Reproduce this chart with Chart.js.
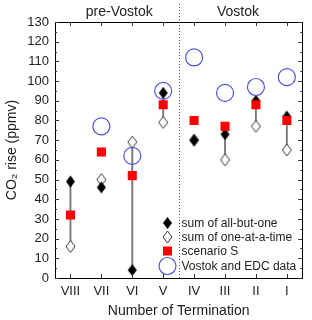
<!DOCTYPE html>
<html>
<head>
<meta charset="utf-8">
<script src="https://cdn.jsdelivr.net/npm/chart.js@4/dist/chart.umd.min.js"></script>
<style>
  html, body { margin: 0; padding: 0; background: #fff; }
  #wrap { width: 312px; height: 320px; }
</style>
</head>
<body>
<div id="wrap"><canvas id="co2Chart" width="312" height="320"></canvas></div>
<script>
const terminations = ["VIII", "VII", "VI", "V", "IV", "III", "II", "I"];
const allButOne = [49, 46, 4, 94, 70, 73, 90, 82];
const oneAtATime = [16, 50, 69, 79, 70, 60, 77, 65];
const scenarioS = [32, 64, 52, 88, 80, 77, 88, 80];
const vostokEDC = [null, 77, 62, 95, 112, 94, 97, 102];
const yTicks = [0, 10, 20, 30, 40, 50, 60, 70, 80, 90, 100, 110, 120, 130];
const groupLabels = ["pre-Vostok", "Vostok"];

const FONT = "'Liberation Sans', Arial, sans-serif";

function diamond(fill, stroke) {
  const c = document.createElement("canvas");
  c.width = 11;
  c.height = 14;
  const g = c.getContext("2d");
  g.beginPath();
  g.moveTo(5.5, 1);
  g.lineTo(10, 7);
  g.lineTo(5.5, 13);
  g.lineTo(1, 7);
  g.closePath();
  g.fillStyle = fill;
  g.fill();
  if (stroke) {
    g.strokeStyle = stroke;
    g.lineWidth = 1;
    g.stroke();
  }
  return c;
}

const filledDiamond = diamond("#000", null);
const openDiamond = diamond("#fff", "#333");

// gray connectors between the two sums
const connectors = terminations.map((t, i) => [
  Math.min(allButOne[i], oneAtATime[i]),
  Math.max(allButOne[i], oneAtATime[i])
]);

const legendItems = [
  { label: "sum of all-but-one", style: filledDiamond },
  { label: "sum of one-at-a-time", style: openDiamond },
  { label: "scenario S", style: "square" },
  { label: "Vostok and EDC data", style: "circle" }
];

const decorations = {
  id: "decorations",
  afterDraw(chart) {
    const ctx = chart.ctx;
    const area = chart.chartArea;
    const x = chart.scales.x;
    const y = chart.scales.y;
    ctx.save();

    // frame
    ctx.strokeStyle = "#000";
    ctx.lineWidth = 1;
    ctx.strokeRect(Math.round(area.left) + 0.5, Math.round(area.top) + 0.5,
      Math.round(area.right - area.left), Math.round(area.bottom - area.top));

    // inward ticks
    ctx.strokeStyle = "#333";
    ctx.beginPath();
    for (let v = 0; v <= 130; v += 5) {
      const py = Math.round(y.getPixelForValue(v)) + 0.5;
      const len = v % 10 === 0 ? 4 : 2;
      ctx.moveTo(area.left, py); ctx.lineTo(area.left + len, py);
      ctx.moveTo(area.right, py); ctx.lineTo(area.right - len, py);
    }
    terminations.forEach((t, i) => {
      const px = Math.round(x.getPixelForValue(i)) + 0.5;
      ctx.moveTo(px, area.bottom); ctx.lineTo(px, area.bottom - 4);
      ctx.moveTo(px, area.top); ctx.lineTo(px, area.top + 4);
    });
    ctx.stroke();

    // dotted divider between V and IV
    const divX = Math.round((x.getPixelForValue(3) + x.getPixelForValue(4)) / 2) + 0.5;
    ctx.strokeStyle = "#555";
    ctx.setLineDash([1, 2]);
    ctx.beginPath();
    ctx.moveTo(divX, 4);
    ctx.lineTo(divX, area.bottom);
    ctx.stroke();
    ctx.setLineDash([]);

    // group headers
    ctx.fillStyle = "#222";
    ctx.font = "14px " + FONT;
    ctx.textAlign = "center";
    ctx.textBaseline = "middle";
    ctx.fillText(groupLabels[0], (area.left + divX) / 2 + 2, 12);
    ctx.fillText(groupLabels[1], (divX + area.right) / 2 - 3, 12);

    // legend
    const markX = divX - 12;
    const rows = [223, 237, 251, 266];
    ctx.font = "12px " + FONT;
    ctx.textAlign = "left";
    legendItems.forEach((item, i) => {
      const ry = rows[i];
      if (item.style === "square") {
        ctx.fillStyle = "#ff0000";
        ctx.fillRect(markX - 4.5, ry - 4.5, 9, 9);
      } else if (item.style === "circle") {
        ctx.strokeStyle = "#5050dd";
        ctx.lineWidth = 1.2;
        ctx.beginPath();
        ctx.arc(markX, ry, 8.5, 0, Math.PI * 2);
        ctx.stroke();
      } else {
        ctx.drawImage(item.style, markX - item.style.width / 2, ry - item.style.height / 2);
      }
      ctx.fillStyle = "#222";
      ctx.fillText(item.label, divX + 2, ry + 0.5);
    });
    ctx.restore();
  }
};

new Chart(document.getElementById("co2Chart"), {
  data: {
    labels: terminations,
    datasets: [
      {
        type: "line",
        label: "Vostok and EDC data",
        data: vostokEDC,
        showLine: false,
        pointStyle: "circle",
        pointRadius: 8.5,
        pointBorderWidth: 1.2,
        pointBorderColor: "#5050dd",
        pointBackgroundColor: "rgba(0,0,0,0)",
        order: 1
      },
      {
        type: "line",
        label: "scenario S",
        data: scenarioS,
        showLine: false,
        pointStyle: "rect",
        pointRadius: 6.4,
        pointBorderWidth: 0,
        pointBackgroundColor: "#ff0000",
        order: 2
      },
      {
        type: "line",
        label: "sum of all-but-one",
        data: allButOne,
        showLine: false,
        pointStyle: filledDiamond,
        order: 3
      },
      {
        type: "line",
        label: "sum of one-at-a-time",
        data: oneAtATime,
        showLine: false,
        pointStyle: openDiamond,
        order: 4
      },
      {
        type: "bar",
        label: "range",
        data: connectors,
        backgroundColor: "#777",
        barThickness: 1.2,
        order: 5
      }
    ]
  },
  options: {
    responsive: false,
    animation: false,
    events: [],
    layout: { padding: { top: 22, right: 5, left: 0, bottom: 0 } },
    plugins: {
      legend: { display: false },
      tooltip: { enabled: false }
    },
    scales: {
      x: {
        type: "category",
        offset: true,
        grid: { display: false, drawTicks: false },
        border: { display: false },
        ticks: { color: "#222", font: { family: FONT, size: 13 }, padding: 6, maxRotation: 0 },
        title: { display: true, text: "Number of Termination", color: "#222",
          font: { family: FONT, size: 14 }, padding: { top: 0, bottom: 0 } },
        afterFit(scale) { scale.height = 42; }
      },
      y: {
        min: 0,
        max: 130,
        grid: { display: false, drawTicks: false },
        border: { display: false },
        afterBuildTicks(scale) { scale.ticks = yTicks.map(v => ({ value: v })); },
        ticks: { color: "#222", font: { family: FONT, size: 13 }, padding: 6 },
        title: { display: true, text: "CO\u2082 rise (ppmv)", color: "#222",
          font: { family: FONT, size: 14 }, padding: { top: 4, bottom: 0 } },
        afterFit(scale) { scale.width = 55; }
      }
    }
  },
  plugins: [decorations]
});
</script>
</body>
</html>
